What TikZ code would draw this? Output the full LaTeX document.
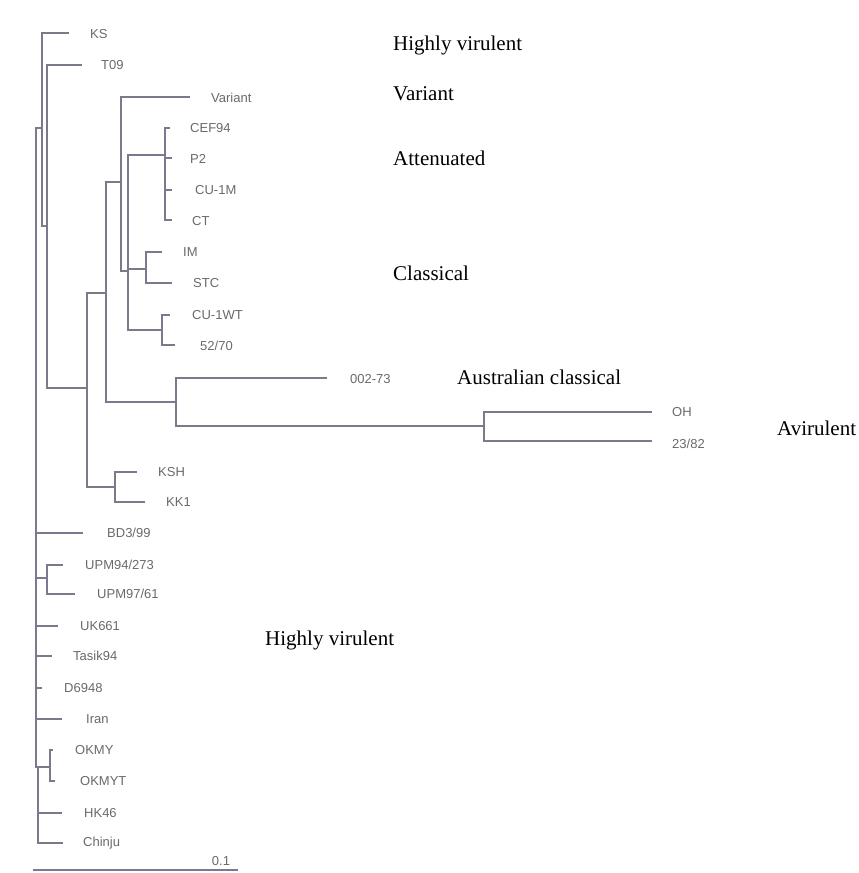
\documentclass[tikz,border=0pt]{standalone}
\usepackage{fontspec}
\setmainfont{Liberation Serif}
\newfontfamily\leaffont{Liberation Sans}
\begin{document}
\begin{tikzpicture}[x=1pt,y=-1pt,
  branch/.style={draw={rgb,255:red,125;green,120;blue,140},line width=1.3pt},
  leaf/.style={anchor=west,inner sep=0pt,text={rgb,255:red,105;green,105;blue,110},font=\leaffont\fontsize{13}{15}\selectfont},
  group/.style={anchor=base west,inner sep=0pt,text=black,font=\fontsize{21}{25}\selectfont}]
\useasboundingbox (0,0) rectangle (859,873);
% internal nodes
\coordinate (pR) at (36,448);
\coordinate (pK) at (42,128);
\coordinate (pT) at (47,226);
\coordinate (pA) at (87,388);
\coordinate (pB) at (106,293);
\coordinate (pC) at (121,182);
\coordinate (pD) at (128,271);
\coordinate (pCEF) at (165,155);
\coordinate (pIM) at (146,269);
\coordinate (pCU) at (162,330);
\coordinate (pE) at (176,402);
\coordinate (pAv) at (484,426);
\coordinate (pKK) at (115,487);
\coordinate (pUPM) at (47,578);
\coordinate (pBt) at (38,767);
\coordinate (pOK) at (50,767);
% tips
\coordinate (tKS) at (69,33);
\coordinate (tT09) at (82,65);
\coordinate (tVar) at (190,97);
\coordinate (tCEF) at (170,128);
\coordinate (tP2) at (172,158);
\coordinate (tCUM) at (172,190);
\coordinate (tCT) at (172,220);
\coordinate (tIM) at (162,252);
\coordinate (tSTC) at (172,283);
\coordinate (tCUWT) at (170,315);
\coordinate (tFT) at (175,345);
\coordinate (tOOT) at (327,378);
\coordinate (tOH) at (652,412);
\coordinate (tTE) at (652,441);
\coordinate (tKSH) at (137,472);
\coordinate (tKK) at (145,502);
\coordinate (tBD) at (83,533);
\coordinate (tUPa) at (63,565);
\coordinate (tUPb) at (75,594);
\coordinate (tUK) at (58,626);
\coordinate (tTas) at (52,656);
\coordinate (tD) at (42,688);
\coordinate (tIran) at (62,719);
\coordinate (tOKa) at (53,750);
\coordinate (tOKb) at (55,781);
\coordinate (tHK) at (62,813);
\coordinate (tCh) at (63,843);
% branches
\path[branch] (pR) |- (pK) (pR) |- (tBD) (pR) |- (pUPM) (pR) |- (tUK)
  (pR) |- (tTas) (pR) |- (tD) (pR) |- (tIran) (pR) |- (pBt);
\path[branch] (pBt) -- (pOK) (pBt) |- (tHK) (pBt) |- (tCh);
\path[branch] (pOK) |- (tOKa) (pOK) |- (tOKb);
\path[branch] (pUPM) |- (tUPa) (pUPM) |- (tUPb);
\path[branch] (pK) |- (tKS) (pK) |- (pT);
\path[branch] (pT) |- (tT09) (pT) |- (pA);
\path[branch] (pA) |- (pB) (pA) |- (pKK);
\path[branch] (pKK) |- (tKSH) (pKK) |- (tKK);
\path[branch] (pB) |- (pC) (pB) |- (pE);
\path[branch] (pC) |- (tVar) (pC) |- (pD);
\path[branch] (pD) |- (pCEF) (pD) |- (pIM) (pD) |- (pCU);
\path[branch] (pCEF) |- (tCEF) (pCEF) |- (tP2) (pCEF) |- (tCUM) (pCEF) |- (tCT);
\path[branch] (pIM) |- (tIM) (pIM) |- (tSTC);
\path[branch] (pCU) |- (tCUWT) (pCU) |- (tFT);
\path[branch] (pE) |- (tOOT) (pE) |- (pAv);
\path[branch] (pAv) |- (tOH) (pAv) |- (tTE);
% leaf labels
\node[leaf] (lKS) at (90,34) {KS};
\node[leaf] (lT09) at (101,65) {T09};
\node[leaf] (lVar) at (211,98) {Variant};
\node[leaf] (lCEF) at (190,128) {CEF94};
\node[leaf] (lP2) at (190,159) {P2};
\node[leaf] (lCUM) at (195,190) {CU-1M};
\node[leaf] (lCT) at (192,221) {CT};
\node[leaf] (lIM) at (183,252) {IM};
\node[leaf] (lSTC) at (193,283) {STC};
\node[leaf] (lCUWT) at (192,315) {CU-1WT};
\node[leaf] (lFT) at (200,346) {52/70};
\node[leaf] (lOOT) at (350,379) {002-73};
\node[leaf] (lOH) at (672,412) {OH};
\node[leaf] (lTE) at (672,444) {23/82};
\node[leaf] (lKSH) at (158,472) {KSH};
\node[leaf] (lKK) at (166,502) {KK1};
\node[leaf] (lBD) at (107,533) {BD3/99};
\node[leaf] (lUPa) at (85,565) {UPM94/273};
\node[leaf] (lUPb) at (97,594) {UPM97/61};
\node[leaf] (lUK) at (80,626) {UK661};
\node[leaf] (lTas) at (73,656) {Tasik94};
\node[leaf] (lD) at (64,688) {D6948};
\node[leaf] (lIran) at (86,719) {Iran};
\node[leaf] (lOKa) at (75,750) {OKMY};
\node[leaf] (lOKb) at (80,781) {OKMYT};
\node[leaf] (lHK) at (84,813) {HK46};
\node[leaf] (lCh) at (83,843) {Chinju};
% scale bar
\coordinate (sbA) at (33,870);
\coordinate (sbB) at (238,870);
\path[branch] (sbA) -- (sbB);
\node[leaf,anchor=center] (lScale) at (221,861) {0.1};
% group labels
\node[group] (gHV1) at (393,50) {Highly virulent};
\node[group] (gVar) at (393,100) {Variant};
\node[group] (gAtt) at (393,165) {Attenuated};
\node[group] (gCla) at (393,280) {Classical};
\node[group] (gAus) at (457,384) {Australian classical};
\node[group] (gAvi) at (777,435) {Avirulent};
\node[group] (gHV2) at (265,645) {Highly virulent};
\end{tikzpicture}
\end{document}
